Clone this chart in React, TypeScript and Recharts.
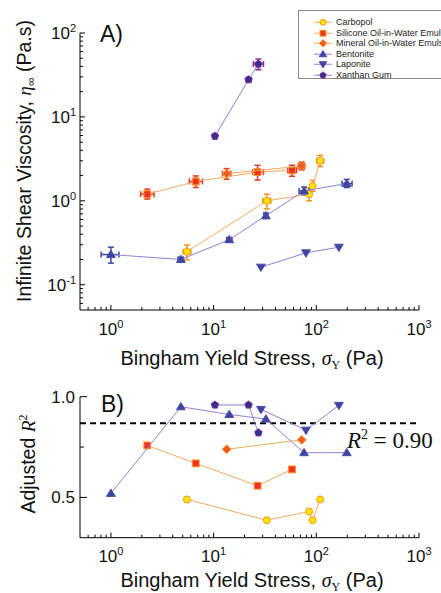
import React from 'react';
import { ScatterChart, Scatter, XAxis, YAxis, ErrorBar, ReferenceLine, Legend, Label } from 'recharts';

// yield stress (Pa) for each fluid, shared by both panels
const carbopolX = [5.5, 33, 85, 92, 109];
const siliconeX = [2.26, 6.7, 26.8, 58];
const mineralX = [13.4, 72];
const bentoniteX = [1, 4.8, 14.2, 32.3, 76, 198];
const laponiteX = [28.9, 79.3, 166];
const xanthanX = [10.3, 21.9, 27.3];

// panel A: infinite shear viscosity (Pa.s)
const carbopolEta = [0.248, 1.0, 1.2, 1.5, 3.0];
const siliconeEta = [1.2, 1.7, 2.2, 2.31];
const mineralEta = [2.11, 2.6];
const bentoniteEta = [0.229, 0.2, 0.344, 0.664, 1.31, 1.61];
const laponiteEta = [0.162, 0.24, 0.28];
const xanthanEta = [5.9, 27.8, 42.7];

// error bars [minus, plus]
const carbopolEtaErr = [[0.05, 0.05], [0.2, 0.2], [0.2, 0.22], [0.2, 0.25], [0.44, 0.48]];
const carbopolXErr = [[0.45, 0.5], [2.9, 3.1], [3, 3], [3, 3], [8, 9]];
const siliconeEtaErr = [[0.15, 0.18], [0.26, 0.28], [0.43, 0.45], [0.35, 0.35]];
const siliconeXErr = [[0.31, 0.37], [0.9, 1.1], [2.8, 3.8], [5.3, 6.3]];
const mineralEtaErr = [[0.3, 0.31], [0.27, 0.3]];
const mineralXErr = [[1.2, 1.3], [5, 5]];
const bentoniteEtaErr = [[0.048, 0.051], [0.012, 0.012], [0.02, 0.02], [0.05, 0.05], [0.14, 0.15], [0.17, 0.19]];
const bentoniteXErr = [[0.196, 0.197], [0.3, 0.3], [0.8, 0.9], [1.5, 1.5], [8, 9], [20, 25]];
const xanthanEtaErr = [[0.35, 0.35], [1.6, 1.6], [6.2, 6.2]];
const xanthanXErr = [[0.4, 0.4], [1, 1], [2.9, 3.3]];

// panel B: adjusted R^2
const carbopolR2 = [0.49, 0.387, 0.43, 0.387, 0.49];
const siliconeR2 = [0.758, 0.669, 0.558, 0.639];
const mineralR2 = [0.739, 0.786];
const bentoniteR2 = [0.52, 0.95, 0.912, 0.889, 0.722, 0.722];
const laponiteR2 = [0.937, 0.834, 0.957];
const xanthanR2 = [0.959, 0.959, 0.821];
const r2Threshold = 0.868;

const xTicks = [0.6, 0.7, 0.8, 0.9, 1, 2, 3, 4, 5, 6, 7, 8, 9, 10, 20, 30, 40, 50, 60, 70, 80, 90,
  100, 200, 300, 400, 500, 600, 700, 800, 900, 1000];
const xMajor = [1, 10, 100, 1000];
const xExp = ['0', '1', '2', '3'];
const etaTicks = [0.06, 0.07, 0.08, 0.09, 0.1, 0.2, 0.3, 0.4, 0.5, 0.6, 0.7, 0.8, 0.9, 1, 2, 3, 4, 5, 6, 7, 8, 9,
  10, 20, 30, 40, 50, 60, 70, 80, 90, 100];
const etaMajor = [0.1, 1, 10, 100];
const etaExp = ['-1', '0', '1', '2'];
const r2Ticks = [0.5, 0.75, 1.0];
const r2Labels = ['0.5', '', '1.0'];

const names = ['Carbopol', 'Silicone Oil-in-Water Emulsion', 'Mineral Oil-in-Water Emulsion', 'Bentonite', 'Laponite', 'Xanthan Gum'];

const SANS = '"Liberation Sans", Arial, Helvetica, sans-serif';
const SERIF = '"Liberation Serif", "Times New Roman", serif';
const orangeLine = '#F6A860';
const purpleLine = '#8C82D4';

type Kind = 'circle' | 'square' | 'diamond' | 'up' | 'down' | 'penta';

const styles = [
  { kind: 'circle' as Kind, fill: '#FFE600', stroke: '#F7941D', line: orangeLine, err: '#F7941D' },
  { kind: 'square' as Kind, fill: '#EE3124', stroke: '#F7941D', line: orangeLine, err: '#E23B26' },
  { kind: 'diamond' as Kind, fill: '#F15A24', stroke: '#F7941D', line: orangeLine, err: '#E23B26' },
  { kind: 'up' as Kind, fill: '#3A47A0', stroke: '#5049AA', line: purpleLine, err: '#3A47A0' },
  { kind: 'down' as Kind, fill: '#3A47A0', stroke: '#5049AA', line: purpleLine, err: '#3A47A0' },
  { kind: 'penta' as Kind, fill: '#2E3192', stroke: '#92278F', line: purpleLine, err: '#92278F' },
];

function marker(kind: Kind, cx: number, cy: number, fill: string, stroke: string, s = 1) {
  const p = { fill, stroke, strokeWidth: 1 };
  switch (kind) {
    case 'circle':
      return <circle cx={cx} cy={cy} r={3.5 * s} {...p} />;
    case 'square':
      return <rect x={cx - 3.4 * s} y={cy - 3.4 * s} width={6.8 * s} height={6.8 * s} {...p} />;
    case 'diamond': {
      const d = 4.4 * s;
      return <polygon points={`${cx},${cy - d} ${cx + d},${cy} ${cx},${cy + d} ${cx - d},${cy}`} {...p} />;
    }
    case 'up':
      return <polygon points={`${cx},${cy - 4.3 * s} ${cx + 4.4 * s},${cy + 3 * s} ${cx - 4.4 * s},${cy + 3 * s}`} {...p} />;
    case 'down':
      return <polygon points={`${cx},${cy + 4.3 * s} ${cx + 4.4 * s},${cy - 3 * s} ${cx - 4.4 * s},${cy - 3 * s}`} {...p} />;
    default: {
      const r = 3.9 * s;
      const pts = [0, 1, 2, 3, 4].map((i) => {
        const a = -Math.PI / 2 + (i * 2 * Math.PI) / 5;
        return `${cx + r * Math.cos(a)},${cy + r * Math.sin(a)}`;
      });
      return <polygon points={pts.join(' ')} {...p} />;
    }
  }
}

const pts = (xs: number[], ys: number[], xe?: number[][], ye?: number[][]) =>
  xs.map((x, i) => ({ x, y: ys[i], ex: xe ? xe[i] : undefined, ey: ye ? ye[i] : undefined }));

const seriesA = [
  pts(carbopolX, carbopolEta, carbopolXErr, carbopolEtaErr),
  pts(siliconeX, siliconeEta, siliconeXErr, siliconeEtaErr),
  pts(mineralX, mineralEta, mineralXErr, mineralEtaErr),
  pts(bentoniteX, bentoniteEta, bentoniteXErr, bentoniteEtaErr),
  pts(laponiteX, laponiteEta),
  pts(xanthanX, xanthanEta, xanthanXErr, xanthanEtaErr),
];

const seriesB = [
  pts(carbopolX, carbopolR2),
  pts(siliconeX, siliconeR2),
  pts(mineralX, mineralR2),
  pts(bentoniteX, bentoniteR2),
  pts(laponiteX, laponiteR2),
  pts(xanthanX, xanthanR2),
];

function XTick(props: any, labelDy: number) {
  const { x, y, payload } = props;
  const i = xMajor.indexOf(payload.value);
  const major = i >= 0;
  return (
    <g>
      <line x1={x} y1={y} x2={x} y2={y - (major ? 5 : 3)} stroke="#000" strokeWidth={1} />
      {major && (
        <text x={x} y={y + labelDy} textAnchor="middle" fontSize={17} fontFamily={SANS} fill="#111">
          10<tspan dy={-7} fontSize={11}>{xExp[i]}</tspan>
        </text>
      )}
    </g>
  );
}

function EtaTick(props: any) {
  const { x, y, payload } = props;
  const i = etaMajor.indexOf(payload.value);
  const major = i >= 0;
  return (
    <g>
      <line x1={x} y1={y} x2={x + (major ? 5 : 3)} y2={y} stroke="#000" strokeWidth={1} />
      {major && (
        <text x={x - 4} y={y + 6} textAnchor="end" fontSize={17} fontFamily={SANS} fill="#111">
          10<tspan dy={-7} fontSize={11}>{etaExp[i]}</tspan>
        </text>
      )}
    </g>
  );
}

function R2Tick(props: any) {
  const { x, y, payload } = props;
  const i = r2Ticks.indexOf(payload.value);
  const lab = r2Labels[i];
  return (
    <g>
      <line x1={x} y1={y} x2={x + (lab ? 7 : 4)} y2={y} stroke="#000" strokeWidth={1} />
      {lab && (
        <text x={x - 5} y={y + 6} textAnchor="end" fontSize={17} fontFamily={SANS} fill="#111">
          {lab}
        </text>
      )}
    </g>
  );
}

function LegendBox() {
  return (
    <div
      style={{
        border: '1px solid #8a8a8a',
        boxSizing: 'border-box',
        height: 69,
        width: 170,
        paddingTop: 6,
        background: '#fff',
      }}
    >
      {names.map((n, i) => {
        const st = styles[i];
        return (
          <div key={n} style={{ display: 'flex', alignItems: 'center', height: 10.5 }}>
            <svg width={37} height={10.5} style={{ flex: 'none' }}>
              <line x1={15} y1={5.25} x2={33} y2={5.25} stroke={st.line} strokeWidth={1} />
              {marker(st.kind, 24, 5.25, st.fill, st.stroke, 0.85)}
            </svg>
            <span style={{ fontSize: 9, fontFamily: SANS, color: '#222', whiteSpace: 'nowrap', lineHeight: '10.5px' }}>
              {n}
            </span>
          </div>
        );
      })}
    </div>
  );
}

const xLabel = (y: number) => (
  <text x={252} y={y} textAnchor="middle" fontSize={20} fontFamily={SANS} fill="#111">
    Bingham Yield Stress,{' '}
    <tspan fontFamily={SERIF} fontStyle="italic">σ</tspan>
    <tspan fontFamily={SERIF} fontSize={12} dy={4}>Y</tspan>
    <tspan dy={-4}> (Pa)</tspan>
  </text>
);

export default function App() {
  return (
    <div style={{ position: 'absolute', left: 0, top: 0, width: 441, height: 593, overflow: 'hidden', background: '#fff' }}>
      <div style={{ position: 'absolute', left: 0, top: 0 }}>
        <ScatterChart width={441} height={380} margin={{ top: 33, right: 22, bottom: 30, left: 0 }}>
          <XAxis
            type="number"
            dataKey="x"
            scale="log"
            domain={[0.5, 1000]}
            allowDataOverflow
            ticks={xTicks}
            interval={0}
            tickSize={0}
            tickMargin={0}
            tickLine={false}
            axisLine={{ stroke: '#000' }}
            height={40}
            tick={(p: any) => XTick(p, 25)}
          >
            <Label content={() => xLabel(365)} />
          </XAxis>
          <YAxis
            type="number"
            dataKey="y"
            scale="log"
            domain={[0.05, 100]}
            allowDataOverflow
            ticks={etaTicks}
            interval={0}
            tickSize={0}
            tickMargin={0}
            tickLine={false}
            axisLine={{ stroke: '#000' }}
            width={80}
            tick={(p: any) => EtaTick(p)}
          >
            <Label
              content={() => (
                <g>
                  <text
                    x={31}
                    y={161}
                    transform="rotate(-90, 31, 161)"
                    textAnchor="middle"
                    fontSize={19.5}
                    fontFamily={SANS}
                    fill="#111"
                  >
                    Infinite Shear Viscosity,{' '}
                    <tspan fontFamily={SERIF} fontStyle="italic">η</tspan>
                    <tspan fontSize={12} dy={4}>∞</tspan>
                    <tspan dy={-4}> (Pa.s)</tspan>
                  </text>
                  <text x={100} y={42} fontSize={23} fontFamily={SANS} fill="#111">A)</text>
                </g>
              )}
            />
          </YAxis>
          <Legend
            layout="vertical"
            align="center"
            verticalAlign="middle"
            content={() => <LegendBox />}
            wrapperStyle={{ position: 'absolute', left: 298, top: 10, width: 170, height: 69 }}
          />
          {seriesA.map((d, i) => {
            const st = styles[i];
            return (
              <Scatter
                key={names[i]}
                name={names[i]}
                data={d}
                isAnimationActive={false}
                line={{ stroke: st.line, strokeWidth: 1 }}
                shape={(p: any) => marker(st.kind, p.cx, p.cy, st.fill, st.stroke)}
              >
                {d[0].ex && (
                  <ErrorBar dataKey="ex" direction="x" width={3} stroke={st.err} strokeWidth={1.5} isAnimationActive={false} />
                )}
                {d[0].ey && (
                  <ErrorBar dataKey="ey" direction="y" width={3} stroke={st.err} strokeWidth={1.5} isAnimationActive={false} />
                )}
              </Scatter>
            );
          })}
        </ScatterChart>
      </div>
      <div style={{ position: 'absolute', left: 0, top: 380 }}>
        <ScatterChart width={441} height={213} margin={{ top: 16.7, right: 22, bottom: 15.3, left: 0 }}>
          <XAxis
            type="number"
            dataKey="x"
            scale="log"
            domain={[0.5, 1000]}
            allowDataOverflow
            ticks={xTicks}
            interval={0}
            tickSize={0}
            tickMargin={0}
            tickLine={false}
            axisLine={{ stroke: '#000' }}
            height={40}
            tick={(p: any) => XTick(p, 24)}
          >
            <Label content={() => xLabel(207)} />
          </XAxis>
          <YAxis
            type="number"
            dataKey="y"
            domain={[0.3, 1.0]}
            allowDataOverflow
            ticks={r2Ticks}
            interval={0}
            tickSize={0}
            tickMargin={0}
            tickLine={false}
            axisLine={{ stroke: '#000' }}
            width={80}
            tick={(p: any) => R2Tick(p)}
          >
            <Label
              content={() => (
                <g>
                  <text
                    x={35}
                    y={84}
                    transform="rotate(-90, 35, 84)"
                    textAnchor="middle"
                    fontSize={19.5}
                    fontFamily={SANS}
                    fill="#111"
                  >
                    Adjusted{' '}
                    <tspan fontFamily={SERIF} fontStyle="italic">R</tspan>
                    <tspan fontFamily={SERIF} fontSize={12} dy={-8}>2</tspan>
                  </text>
                  <text x={101} y={31.7} fontSize={23} fontFamily={SANS} fill="#111">B)</text>
                </g>
              )}
            />
          </YAxis>
          <ReferenceLine
            y={r2Threshold}
            stroke="#000"
            strokeWidth={2}
            strokeDasharray="6 4"
            label={() => (
              <text x={347} y={68} fontSize={23} fontFamily={SERIF} fill="#111">
                <tspan fontStyle="italic">R</tspan>
                <tspan fontSize={14} dy={-9}>2</tspan>
                <tspan dy={9}> = 0.90</tspan>
              </text>
            )}
          />
          {seriesB.map((d, i) => {
            const st = styles[i];
            return (
              <Scatter
                key={names[i]}
                name={names[i]}
                data={d}
                isAnimationActive={false}
                line={{ stroke: st.line, strokeWidth: 1 }}
                shape={(p: any) => marker(st.kind, p.cx, p.cy, st.fill, st.stroke)}
              />
            );
          })}
        </ScatterChart>
      </div>
    </div>
  );
}
